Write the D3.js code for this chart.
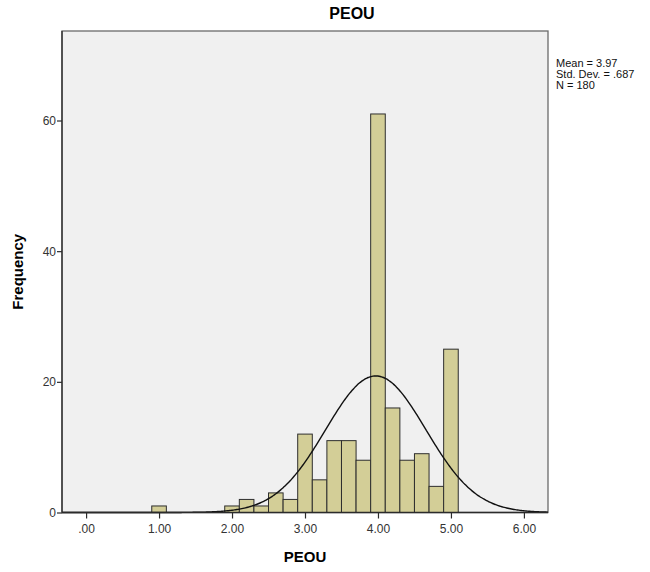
<!DOCTYPE html>
<html>
<head>
<meta charset="utf-8">
<script src="https://cdn.jsdelivr.net/npm/d3@7"></script>
<style>
  html, body { margin: 0; padding: 0; background: #ffffff; }
  svg { display: block; font-family: "Liberation Sans", Arial, sans-serif; }
</style>
</head>
<body>
<svg id="chart" width="650" height="572"></svg>
<script>
// Histogram of PEOU scores (bin width 0.2, bins labelled by centre)
const binCenters = [1.0, 2.0, 2.2, 2.4, 2.6, 2.8, 3.0, 3.2, 3.4, 3.6, 3.8, 4.0, 4.2, 4.4, 4.6, 4.8, 5.0];
const binCounts  = [1,   1,   2,   1,   3,   2,   12,  5,   11,  11,  8,   61,  16,  8,   9,   4,   25];
const binWidth = 0.2;

const xTicks = [0, 1, 2, 3, 4, 5, 6];
const yTicks = [0, 20, 40, 60];

const mean = 3.97;
const stdDev = 0.687;
const n = 180;

const statLines = ["Mean = 3.97", "Std. Dev. = .687", "N = 180"];
const titleText = "PEOU";
const xTitle = "PEOU";
const yTitle = "Frequency";

const svg = d3.select("#chart");
const plot = { left: 62, right: 548, top: 31, bottom: 512.5 };

const x = d3.scaleLinear().domain([-0.33, 6.33]).range([plot.left, plot.right]);
const y = d3.scaleLinear().domain([0, 73.7]).range([plot.bottom, plot.top]);

// plot background
svg.append("rect")
  .attr("x", plot.left).attr("y", plot.top)
  .attr("width", plot.right - plot.left).attr("height", plot.bottom - plot.top)
  .attr("fill", "#f0f0f0")
  .attr("stroke", "#6b6b6b").attr("stroke-width", 1.3);

// bars
svg.append("g").selectAll("rect")
  .data(binCenters.map((c, i) => ({ c, v: binCounts[i] })))
  .join("rect")
  .attr("x", d => x(d.c - binWidth / 2))
  .attr("y", d => y(d.v))
  .attr("width", d => x(d.c + binWidth / 2) - x(d.c - binWidth / 2))
  .attr("height", d => y(0) - y(d.v))
  .attr("fill", "#d3ce97")
  .attr("stroke", "#2e2e2e").attr("stroke-width", 1);

// fitted normal curve scaled to counts
const pdf = v => Math.exp(-0.5 * Math.pow((v - mean) / stdDev, 2)) / (stdDev * Math.sqrt(2 * Math.PI));
const curvePts = d3.range(0, 401).map(i => {
  const v = x.domain()[0] + (x.domain()[1] - x.domain()[0]) * i / 400;
  return [v, n * binWidth * pdf(v)];
});
svg.append("path")
  .datum(curvePts)
  .attr("fill", "none")
  .attr("stroke", "#111")
  .attr("stroke-width", 1.4)
  .attr("d", d3.line().x(d => x(d[0])).y(d => y(d[1])).curve(d3.curveBasis));

// axes
const fmtX = v => v === 0 ? ".00" : d3.format(".2f")(v);
const xAxis = svg.append("g")
  .attr("transform", `translate(0,${plot.bottom})`)
  .call(d3.axisBottom(x).tickValues(xTicks).tickFormat(fmtX).tickSize(6).tickSizeOuter(0));
const yAxis = svg.append("g")
  .attr("transform", `translate(${plot.left},0)`)
  .call(d3.axisLeft(y).tickValues(yTicks).tickFormat(d3.format("d")).tickSize(5).tickSizeOuter(0));

[xAxis, yAxis].forEach(g => {
  g.select(".domain").attr("stroke", "#2b2b2b").attr("stroke-width", 1.3);
  g.selectAll(".tick line").attr("stroke", "#2b2b2b").attr("stroke-width", 1.2);
  g.selectAll(".tick text")
    .attr("fill", "#333")
    .style("font-size", "12px")
    .style("font-family", "'Liberation Sans', Arial, sans-serif");
});
xAxis.selectAll(".tick text").attr("dy", "0.95em");
yAxis.selectAll(".tick text").attr("x", -6);
// keep domain lines across full plot width/height
xAxis.select(".domain").attr("d", `M${plot.left},0H${plot.right}`);
yAxis.select(".domain").attr("d", `M0,${plot.top}V${plot.bottom}`);

// titles
svg.append("text")
  .attr("x", 352).attr("y", 19)
  .attr("text-anchor", "middle")
  .style("font-size", "16px").style("font-weight", "bold")
  .text(titleText);

svg.append("text")
  .attr("x", (plot.left + plot.right) / 2).attr("y", 562)
  .attr("text-anchor", "middle")
  .style("font-size", "15px").style("font-weight", "bold")
  .text(xTitle);

svg.append("text")
  .attr("transform", `translate(23,${(plot.top + plot.bottom) / 2}) rotate(-90)`)
  .attr("text-anchor", "middle")
  .style("font-size", "15px").style("font-weight", "bold")
  .text(yTitle);

// summary statistics
svg.append("g").selectAll("text")
  .data(statLines)
  .join("text")
  .attr("x", 556)
  .attr("y", (d, i) => 67 + i * 11)
  .style("font-size", "11px")
  .attr("fill", "#111")
  .text(d => d);
</script>
</body>
</html>
